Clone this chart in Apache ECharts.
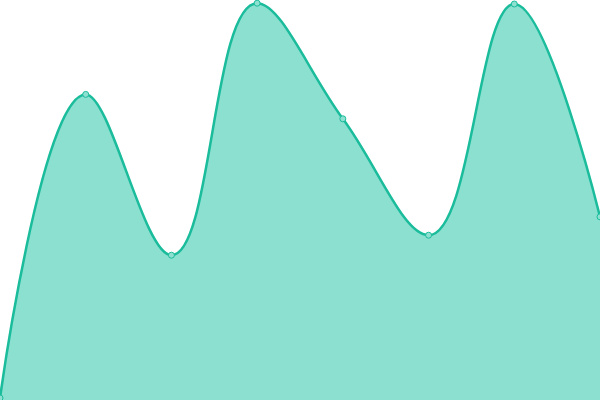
<!DOCTYPE html>
<html><head><meta charset="utf-8">
<script src="https://cdn.jsdelivr.net/npm/echarts@6/dist/echarts.min.js"></script>
<style>html,body{margin:0;padding:0;background:#fff}#c{width:600px;height:400px}</style>
</head><body><div id="c"></div>
<script>
const categories = ['1','2','3','4','5','6','7','8'];
const values = [0.5, 76.4, 36.2, 99.2, 70.3, 41.2, 99, 45.8];
const chart = echarts.init(document.getElementById('c'));
chart.setOption({
  animation: false,
  grid: {left: 0, right: 0, top: 0, bottom: 0},
  xAxis: {type: 'category', data: categories, boundaryGap: false, show: false},
  yAxis: {type: 'value', min: 0, max: 100, show: false},
  series: [{
    type: 'line',
    data: values,
    smooth: 0.4,
    symbol: 'circle',
    symbolSize: 6,
    lineStyle: {color: '#1abc9c', width: 2.5},
    itemStyle: {color: '#8ee0d0', borderColor: '#1abc9c', borderWidth: 1},
    areaStyle: {color: '#8be0d0', opacity: 1}
  }]
});
</script></body></html>
